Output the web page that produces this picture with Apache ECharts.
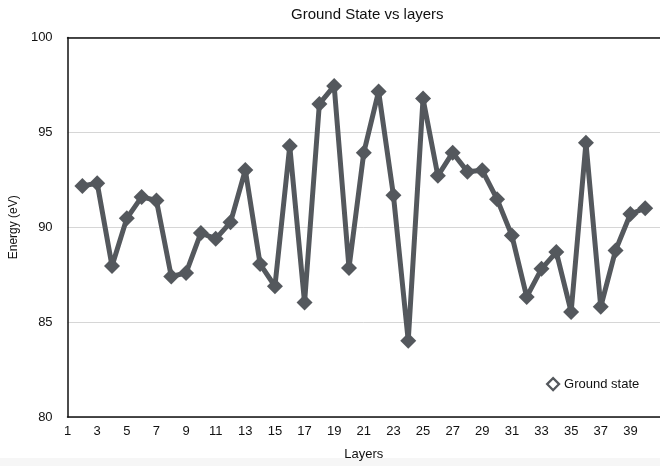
<!DOCTYPE html>
<html>
<head>
<meta charset="utf-8">
<script src="https://cdn.jsdelivr.net/npm/echarts@6/dist/echarts.min.js"></script>
<style>html,body{margin:0;padding:0;background:#fff}#c{width:660px;height:466px}</style>
</head>
<body>
<div id="c"></div>
<script>
var layers = [2,3,4,5,6,7,8,9,10,11,12,13,14,15,16,17,18,19,20,21,22,23,24,25,26,27,28,29,30,31,32,33,34,35,36,37,38,39,40];
var groundState = [92.18,92.32,87.96,90.47,91.6,91.41,87.41,87.59,89.7,89.39,90.26,93.02,88.06,86.89,94.28,86.03,96.5,97.45,87.85,93.93,97.16,91.69,84.02,96.78,92.71,93.93,92.93,93.0,91.48,89.56,86.33,87.81,88.69,85.54,94.45,85.81,88.78,90.7,91.0];
var yTicks = {min: 80, max: 100, step: 5};
var xTicks = {min: 1, max: 41, step: 2};

var FONT = '"Liberation Sans", Arial, Helvetica, sans-serif';
var LINE = '#54585d';
var chart = echarts.init(document.getElementById('c'), null, {renderer: 'canvas'});
var pts = layers.map(function (l, i) { return [l, groundState[i]]; });
chart.setOption({
  animation: false,
  backgroundColor: '#ffffff',
  textStyle: {fontFamily: FONT},
  title: {
    text: 'Ground State vs layers',
    left: 286, top: 2,
    textStyle: {fontFamily: FONT, fontSize: 15, fontWeight: 'normal', color: '#111'}
  },
  legend: {
    left: 541, top: 372,
    itemWidth: 12, itemHeight: 12, itemGap: 8,
    textStyle: {fontFamily: FONT, fontSize: 13, color: '#111'},
    data: [{name: 'Ground state', icon: 'diamond',
      itemStyle: {color: '#ffffff', borderColor: LINE, borderWidth: 2.2}}]
  },
  grid: {left: 65.5, top: 37.5, width: 597.6, height: 381.8, containLabel: false},
  graphic: [{type: 'rect', shape: {x: 0, y: 458, width: 660, height: 8}, style: {fill: '#f6f6f6'}, z: -1}],
  xAxis: [{
    type: 'value', min: xTicks.min, max: xTicks.max, interval: xTicks.step,
    name: 'Layers', nameLocation: 'middle', nameGap: 31,
    nameTextStyle: {fontFamily: FONT, fontSize: 13, color: '#111'},
    axisLine: {show: true, lineStyle: {color: '#111', width: 1.5}},
    axisTick: {show: false},
    splitLine: {show: false},
    axisLabel: {fontFamily: FONT, fontSize: 13, color: '#111', margin: 8, showMaxLabel: false}
  }, {
    type: 'value', position: 'top', min: xTicks.min, max: xTicks.max,
    axisLine: {show: true, onZero: false, lineStyle: {color: '#111', width: 1.5}},
    axisTick: {show: false}, axisLabel: {show: false}, splitLine: {show: false}
  }],
  yAxis: {
    type: 'value', min: yTicks.min, max: yTicks.max, interval: yTicks.step,
    name: 'Energy (eV)', nameLocation: 'middle', nameGap: 41,
    nameTextStyle: {fontFamily: FONT, fontSize: 12, color: '#111'},
    axisLine: {show: true, lineStyle: {color: '#111', width: 1.5}},
    axisTick: {show: false},
    splitLine: {show: true, lineStyle: {color: '#d6d6d6', width: 1}},
    axisLabel: {fontFamily: FONT, fontSize: 13, color: '#111', margin: 15}
  },
  series: [{
    name: 'Ground state', type: 'line', data: pts,
    symbol: 'diamond', symbolSize: 16, showSymbol: true,
    lineStyle: {color: LINE, width: 5},
    itemStyle: {color: LINE, borderWidth: 0}
  }]
});
</script>
</body>
</html>
